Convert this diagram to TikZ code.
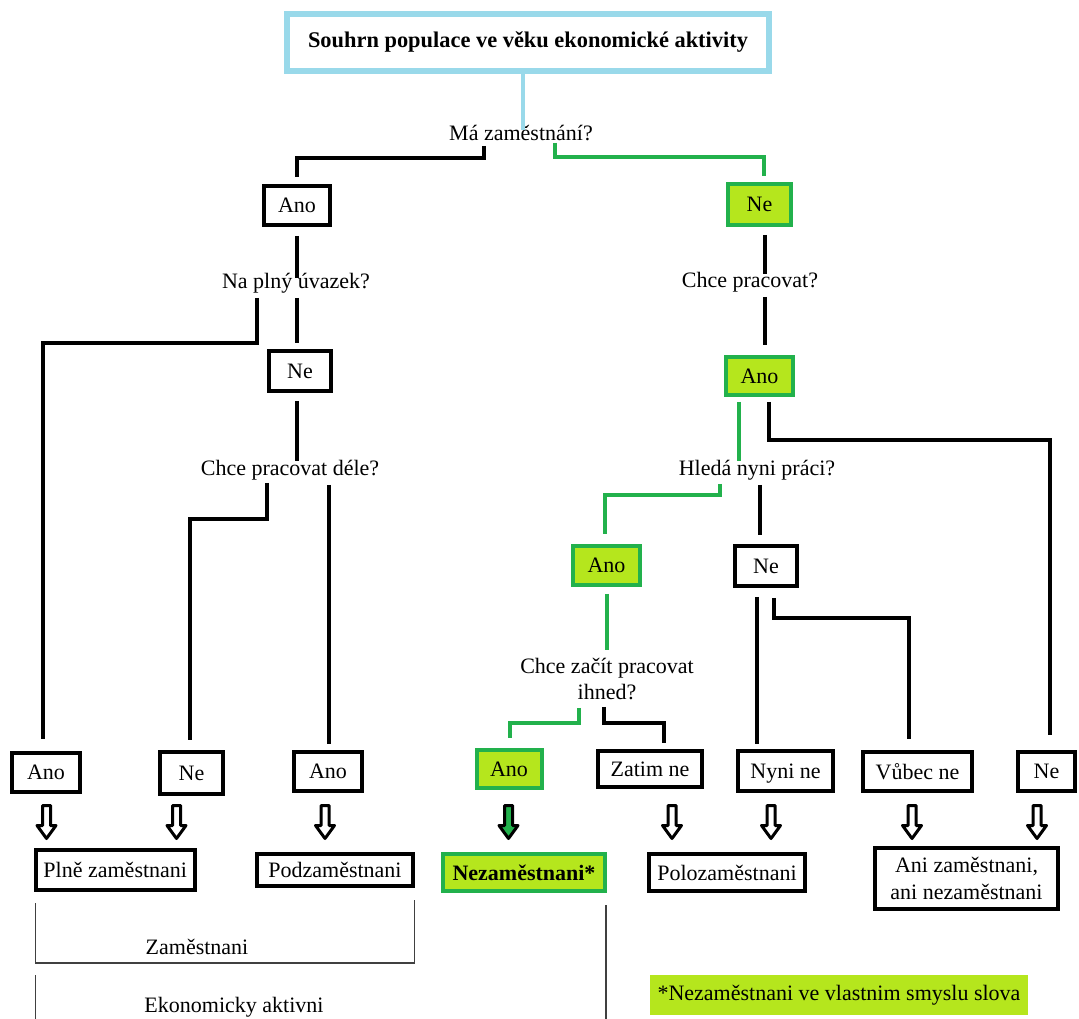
\documentclass[tikz,border=0pt]{standalone}
\usepackage{fontspec}
\setmainfont{Liberation Serif}
\usetikzlibrary{calc}
\definecolor{pgreen}{HTML}{22B14C}
\definecolor{plime}{HTML}{B5E61D}
\definecolor{pblue}{HTML}{99D9EA}
\begin{document}
\begin{tikzpicture}[x=0.75pt,y=-0.75pt,
  every node/.style={font=\fontsize{16.5}{20}\selectfont, inner sep=0pt, text=black},
  sz/.style 2 args={minimum width={#1*0.75pt}, minimum height={#2*0.75pt}},
  bbox/.style={draw=black, line width=3pt, fill=white},
  gbox/.style={draw=pgreen, line width=3pt, fill=plime},
  q/.style={align=center},
  bk/.style={draw=black, line width=3pt},
  gr/.style={draw=pgreen, line width=3pt},
  bl/.style={draw=pblue, line width=3pt},
  thinline/.style={draw=black!75, line width=1.1pt},
  pics/darr/.style={code={\draw[line width=2.25pt, line join=round, fill=#1]
     (-4,0) -- (-4,20) -- (-9.5,20) -- (0,33) -- (9.5,20) -- (4,20) -- (4,0) -- cycle;}}
]
\useasboundingbox[fill=white] (0,0) rectangle (1079,1019);

% title
\node[draw=pblue, line width=4.5pt, fill=white, sz={482}{57},
      font=\fontsize{16.8}{20}\selectfont\bfseries] (title) at (528,42.5)
      {Souhrn populace ve věku ekonomické aktivity};

% questions
\node[q] (q1) at (521,133) {Má zaměstnání?};
\node[q] (q2) at (296,283) {Na plný úvazek?};
\node[q] (q3) at (750,282) {Chce pracovat?};
\node[q] (q4) at (290,470) {Chce pracovat déle?};
\node[q] (q5) at (757,470) {Hledá nyni práci?};
\node[q] (q6) at (607,679) {Chce začít pracovat\\ihned?};

% boxes
\node[bbox, sz={66.5}{39}] (ano1) at (297,205.5) {Ano};
\node[gbox, sz={63}{41}] (ne1) at (759.5,204.5) {Ne};
\node[bbox, sz={62}{40}] (ne2) at (300,371) {Ne};
\node[gbox, sz={67}{38}] (ano2) at (759.5,376) {Ano};
\node[gbox, sz={67}{39}] (ano3) at (606.5,565.5) {Ano};
\node[bbox, sz={62}{40}] (ne3) at (766,566) {Ne};

\node[bbox, sz={68}{39}] (aL1) at (46,772.5) {Ano};
\node[bbox, sz={63}{42}] (nL2) at (191.5,773) {Ne};
\node[bbox, sz={68}{39}] (aL3) at (328,771.5) {Ano};
\node[gbox, sz={65}{38}] (aG) at (509,769) {Ano};
\node[bbox, sz={104}{36}] (zatim) at (650,769) {Zatim ne};
\node[bbox, sz={95}{40}, text depth=0pt] (nyni) at (785.5,771) {Nyni ne};
\node[bbox, sz={109}{39}] (vubec) at (917.5,771.5) {Vůbec ne};
\node[bbox, sz={57}{39}] (neR) at (1046.5,771.5) {Ne};

\node[bbox, sz={158.5}{40}] (plne) at (115.25,870) {Plně zaměstnani};
\node[bbox, sz={156}{32}] (podz) at (335,870) {Podzaměstnani};
\node[gbox, sz={162}{37}, font=\fontsize{16.5}{20}\selectfont\bfseries] (nezam) at (524,872.5) {Nezaměstnani*};
\node[bbox, sz={155.5}{37}] (polo) at (727,872.5) {Polozaměstnani};
\node[bbox, sz={183}{61}, align=center] (ani) at (966.5,878.5) {Ani zaměstnani,\\ani nezaměstnani};

% connectors
\draw[bl] ($(title.south)+(-5,0)$) -- ++(0,56);
\draw[bk] ($(q1)+(-37,13)$) -- ++(0,12) -| ($(ano1.north)+(0,-7)$);
\draw[gr] ($(q1)+(34,10)$) -- ++(0,14) -| ($(ne1.north)+(4.5,-6)$);
\draw[bk] ($(ano1.south)+(0,9)$) -- ++(0,42);
\draw[bk] ($(q2)+(-39,15)$) -- ++(0,45) -| ($(aL1.north)+(-3,-12)$);
\draw[bk] ($(q2)+(1,15)$) -- ($(ne2.north)+(-3,-6)$);
\draw[bk] ($(ne2.south)+(-3,8)$) -- ++(0,60);
\draw[bk] ($(q4)+(-23,13)$) -- ++(0,36) -| ($(nL2.north)+(-1.5,-10)$);
\draw[bk] ($(q4)+(39,15)$) -- ($(aL3.north)+(1,-6)$);
\draw[bk] ($(ne1.south)+(5.5,8)$) -- ++(0,39);
\draw[bk] ($(q3)+(15,15)$) -- ++(0,48);
\draw[gr] ($(ano2.south)+(-20.5,5)$) -- ++(0,59);
\draw[bk] ($(ano2.south)+(9,5)$) -- ++(0,38) -| ($(neR.north)+(3.5,-15)$);
\draw[gr] ($(q5)+(-37,14)$) -- ++(0,11) -| ($(ano3.north)+(-1.5,-10)$);
\draw[bk] ($(q5)+(3,15)$) -- ($(ne3.north)+(-6,-9)$);
\draw[gr] ($(ano3.south)+(0.5,7)$) -- ++(0,56);
\draw[gr] ($(q6)+(-28,29)$) -- ++(0,15) -| ($(aG.north)+(1,-10)$);
\draw[bk] ($(q6)+(-3,28)$) -- ++(0,16) -| ($(zatim.north)+(14,-6)$);
\draw[bk] ($(ne3.south)+(-9,9)$) -- ++(0,147);
\draw[bk] ($(ne3.south)+(8,10)$) -- ++(0,20) -| ($(vubec.north)+(-8.5,-11)$);

% hollow arrows
\pic at (46.5,805.5) {darr=white};
\pic at (176.5,805.5) {darr=white};
\pic at (325,805.5) {darr=white};
\pic at (508.5,805.5) {darr=pgreen};
\pic at (672,805.5) {darr=white};
\pic at (771,805.5) {darr=white};
\pic at (912,805.5) {darr=white};
\pic at (1037,805.5) {darr=white};

% brackets
\draw[thinline] (35.5,903) -- (35.5,963) -- (414.5,963) -- (414.5,900);
\draw[thinline] (35.5,975) -- (35.5,1019);
\draw[thinline] (606,905) -- (606,1019);
\node (zam) at (197,947) {Zaměstnani};
\node (eka) at (234,1007) {Ekonomicky aktivni};

% footnote
\node[fill=plime, sz={378}{40}] (fn) at (839,995) {*Nezaměstnani ve vlastnim smyslu slova};
\end{tikzpicture}
\end{document}
